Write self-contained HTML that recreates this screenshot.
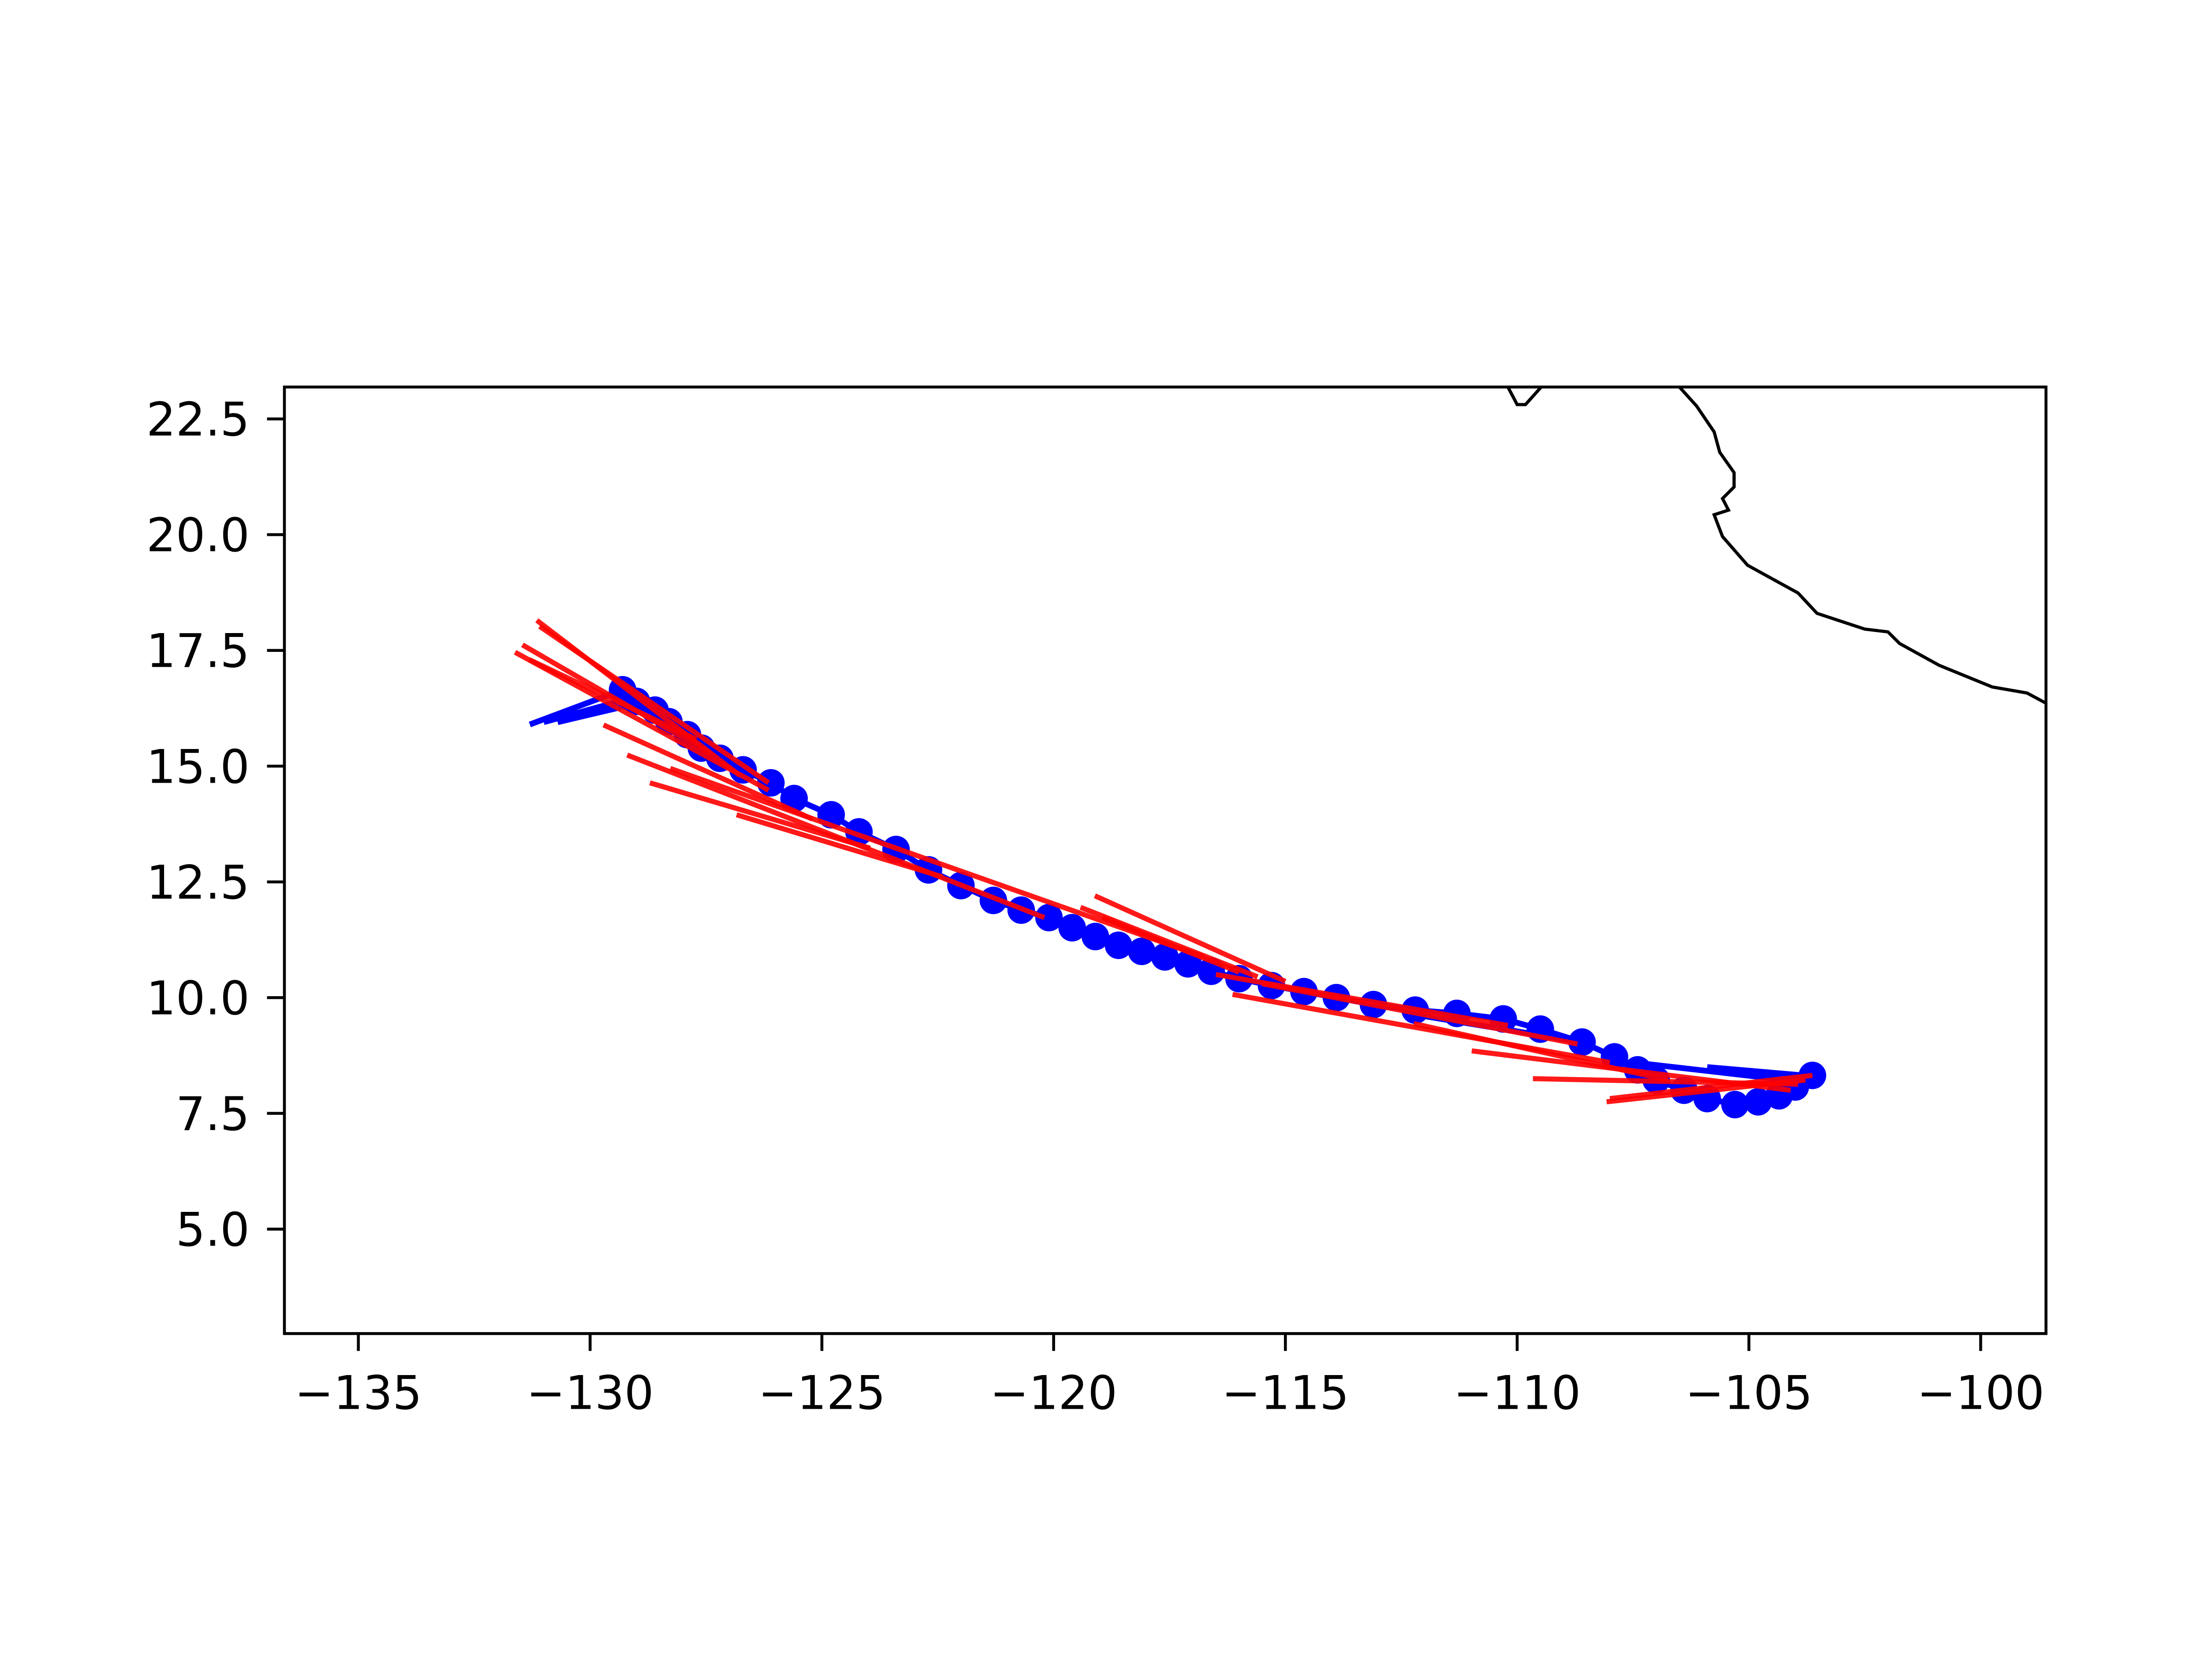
<!DOCTYPE html>
<html><head><meta charset="utf-8">
<style>
html,body{margin:0;padding:0;background:#fff;}
svg{display:block;}
text{font-family:"DejaVu Sans","Liberation Sans",sans-serif;font-size:32px;fill:#000;}
</style></head>
<body>
<svg id="chart" width="5120" height="3840" viewBox="0 0 1545 1159" xmlns="http://www.w3.org/2000/svg">
<defs><clipPath id="plotclip"><rect x="196" y="267" width="1215" height="653"/></clipPath></defs>
<rect x="0" y="0" width="1545" height="1159" fill="#fff"/>
<g id="plot" clip-path="url(#plotclip)"></g>
<rect x="196" y="267" width="1215" height="653" fill="none" stroke="#000" stroke-width="2"/>
<g id="xticks"></g>
<g id="yticks"></g>
</svg>
<script>
const xTicks = [-135, -130, -125, -120, -115, -110, -105, -100];
const yTicks = [5.0, 7.5, 10.0, 12.5, 15.0, 17.5, 20.0, 22.5];
const trackLon = [-103.63,-104.0,-104.35,-104.8,-105.3,-105.9,-106.4,-107.0,-107.4,-107.9,-108.6,-109.5,-110.3,-111.3,-112.2,-113.1,-113.9,-114.6,-115.3,-116.0,-116.6,-117.1,-117.6,-118.1,-118.6,-119.1,-119.6,-120.1,-120.7,-121.3,-122.0,-122.7,-123.4,-124.2,-124.8,-125.6,-126.1,-126.7,-127.2,-127.6,-127.9,-128.3,-128.6,-129.0,-129.3];
const trackLat = [8.32,8.07,7.88,7.75,7.69,7.82,8.0,8.22,8.44,8.72,9.04,9.32,9.54,9.66,9.73,9.85,10.0,10.13,10.26,10.41,10.57,10.73,10.88,11.0,11.13,11.32,11.51,11.73,11.89,12.1,12.42,12.76,13.2,13.58,13.95,14.3,14.64,14.92,15.17,15.39,15.68,15.96,16.21,16.4,16.65];
const blueForecasts = [[-129.3,16.65,-131.3,15.9],[-129.0,16.5,-131.0,15.95],[-128.8,16.4,-130.7,15.95],[-103.6,8.3,-105.9,8.5],[-104.0,8.2,-107.5,8.6],[-108.6,9.04,-112.0,9.6]];
const redForecasts = [
[-103.63,8.32,-108.0,7.82],[-103.78,8.22,-108.07,7.75],[-103.94,8.13,-109.66,8.25],[-104.1,8.0,-110.98,8.85],
[-106.75,8.22,-112.23,9.44],[-108.0,8.6,-116.14,10.07],[-108.7,9.0,-115.5,10.3],[-110.2,9.4,-116.5,10.5],
[-115.0,10.35,-119.11,12.2],[-115.6,10.45,-119.42,11.95],[-116.0,10.55,-118.95,11.73],[-116.76,10.88,-128.27,14.95],[-120.2,11.73,-129.2,15.24],
[-122.4,12.61,-126.84,13.95],[-123.96,13.23,-128.71,14.64],[-125.21,13.86,-129.71,15.89],[-126.15,14.48,-131.62,17.46],
[-126.77,14.8,-131.15,18.15],[-127.4,15.27,-131.46,17.62],[-127.71,15.58,-131.31,17.3],[-126.15,14.64,-131.09,18.02]];
const coastLon = [-106.5,-106.13,-105.75,-105.63,-105.32,-105.32,-105.57,-105.44,-105.75,-105.57,-105.03,-103.94,-103.53,-102.5,-102.0,-101.75,-100.9,-99.75,-99.0,-98.59];
const coastLat = [23.19,22.78,22.22,21.78,21.34,21.03,20.78,20.53,20.43,19.96,19.34,18.74,18.3,17.96,17.9,17.65,17.18,16.71,16.58,16.36];
const coast2Lon = [-110.2,-110.0,-109.82,-109.48];
const coast2Lat = [23.19,22.81,22.81,23.19];

const NS='http://www.w3.org/2000/svg';
function X(lon){return 247+(lon+135)*31.97;}
function Y(lat){return 289+(22.5-lat)*31.94;}
const plot=document.getElementById('plot');
function mk(tag,attrs,parent){const e=document.createElementNS(NS,tag);for(const k in attrs)e.setAttribute(k,attrs[k]);parent.appendChild(e);return e;}

let c1=mk('polyline',{points:coastLon.map((v,i)=>X(v)+','+Y(coastLat[i])).join(' '),fill:'none',stroke:'#000','stroke-width':2.2},plot);


let c2=mk('polyline',{points:coast2Lon.map((v,i)=>X(v)+','+Y(coast2Lat[i])).join(' '),fill:'none',stroke:'#000','stroke-width':2.2},plot);



let tl=mk('polyline',{points:trackLon.map((v,i)=>X(v)+','+Y(trackLat[i])).join(' '),fill:'none',stroke:'#0000ff','stroke-width':4},plot);


blueForecasts.forEach(s=>{
  const l=mk('line',{x1:X(s[0]),y1:Y(s[1]),x2:X(s[2]),y2:Y(s[3]),stroke:'#0000ff','stroke-width':4},plot);
  
  
});
trackLon.forEach((v,i)=>{
  const c=mk('circle',{cx:X(v),cy:Y(trackLat[i]),r:9.5,fill:'#0000ff'},plot);
  
  
});
redForecasts.forEach(s=>{
  const l=mk('line',{x1:X(s[0]),y1:Y(s[1]),x2:X(s[2]),y2:Y(s[3]),stroke:'#ff0000','stroke-width':3.5,'stroke-opacity':0.9},plot);
  
  
});

const xg=document.getElementById('xticks');
xTicks.forEach(t=>{
  const x=X(t);
  const l=mk('line',{x1:x,y1:920,x2:x,y2:932,stroke:'#000','stroke-width':2},xg);
  
  
  const tx=mk('text',{x:x,y:972,'text-anchor':'middle'},xg);
  tx.textContent='\u2212'+Math.abs(t);
  
  
});
const yg=document.getElementById('yticks');
yTicks.forEach(t=>{
  const y=Y(t);
  const l=mk('line',{x1:184,y1:y,x2:196,y2:y,stroke:'#000','stroke-width':2},yg);
  
  
  const tx=mk('text',{x:172,y:y+11.5,'text-anchor':'end'},yg);
  tx.textContent=t.toFixed(1);
  
  
});
</script>
</body></html>
